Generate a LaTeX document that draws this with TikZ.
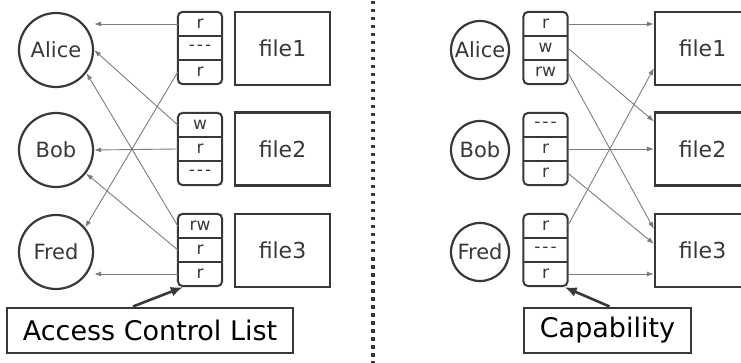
\documentclass[tikz,border=0pt]{standalone}
\usepackage{fontspec}
\setmainfont{DejaVu Sans}
\usepackage{xcolor}
\usepackage{tikz}
\usetikzlibrary{positioning,fit,arrows.meta}

\definecolor{inkgray}{HTML}{383838}
\definecolor{linkgray}{HTML}{7C7C7C}

\newcommand{\nopriv}{-\kern2pt-\kern2pt-}
\newcommand{\permlist}[6]{%
  \node[cell] (#1a) at (#2,#3+12) {#4};
  \node[cell] (#1b) at (#2,#3+36) {#5};
  \node[cell] (#1c) at (#2,#3+60) {#6};
  \node[listbox,fit=(#1a)(#1b)(#1c)] (#1) {};
  \draw[listrule] (#1a.south west) -- (#1a.south east);
  \draw[listrule] (#1b.south west) -- (#1b.south east);
}

\tikzset{
  user/.style={circle,draw=inkgray,line width=2.2pt,inner sep=0pt,text=inkgray,font=\fontsize{21}{25}\selectfont},
  bigu/.style={user,minimum size=74pt},
  smallu/.style={user,minimum size=58pt},
  filebox/.style={rectangle,draw=inkgray,line width=2.2pt,minimum width=95pt,minimum height=73pt,text=inkgray,font=\fontsize{22}{26}\selectfont},
  cell/.style={minimum width=44pt,minimum height=24pt,inner sep=0pt,text=inkgray,font=\fontsize{17}{20}\selectfont},
  listbox/.style={draw=inkgray,line width=2pt,rounded corners=5pt,inner sep=0pt},
  listrule/.style={draw=inkgray,line width=2pt},
  titlebox/.style={rectangle,draw=inkgray,line width=2pt,minimum height=45pt,text=black,font=\fontsize{27}{32}\selectfont},
  link/.style={draw=linkgray,line width=0.9pt,-{Latex[length=7pt,width=5pt]}},
  pointer/.style={draw=inkgray,line width=2.6pt,-{Latex[length=12pt,width=10pt]}}
}

\begin{document}
\begin{tikzpicture}[x=1pt,y=-1pt]
\useasboundingbox (0,0) rectangle (741,363);

\node[bigu] (alice) at (56,50) {Alice};
\node[bigu] (bob) at (56,150) {Bob};
\node[bigu] (fred) at (56,252) {Fred};
\permlist{aclA}{200}{12}{r}{\nopriv}{r}
\permlist{aclB}{200}{113}{w}{r}{\nopriv}
\permlist{aclC}{200}{214}{rw}{r}{r}
\node[filebox] (fileA) at (282.5,48.5) {file1};
\node[filebox] (fileB) at (282.5,149) {file2};
\node[filebox] (fileC) at (282.5,250.5) {file3};
\node[titlebox,minimum width=286pt] (acl) at (150,330) {Access Control List};

\draw[link] (aclAa.west) -- (aclAa.west -| alice.east);
\draw[link] (aclAc.west) -- (fred.40);
\draw[link] (aclBa.west) -- (alice.east);
\draw[link] (aclBb.west) -- (bob.east);
\draw[link] (aclCa.west) -- (alice.-37);
\draw[link] (aclCb.west) -- (bob.-38);
\draw[link] (aclCc.west) -- (aclCc.west -| fred.east);
\draw[pointer] ([xshift=-17pt]acl.north) -- ([xshift=6pt]aclC.south west);

\draw[inkgray,line width=3.5pt,dash pattern=on 3.5pt off 4.5pt] (373,1) -- (373,363);

\node[smallu] (calice) at (480,50) {Alice};
\node[smallu] (cbob) at (480,150) {Bob};
\node[smallu] (cfred) at (480,252) {Fred};
\permlist{capA}{545.5}{12}{r}{w}{rw}
\permlist{capB}{545.5}{113}{\nopriv}{r}{r}
\permlist{capF}{545.5}{214}{r}{\nopriv}{r}
\node[filebox] (cfileA) at (702.5,48.5) {file1};
\node[filebox] (cfileB) at (702.5,149) {file2};
\node[filebox] (cfileC) at (702.5,250.5) {file3};
\node[titlebox,minimum width=167pt] (cap) at (607.5,330) {Capability};

\draw[link] (capAa.east) -- (capAa.east -| cfileA.west);
\draw[link] (capAb.east) -- ([yshift=-10pt]cfileB.north west);
\draw[link] (capAc.east) -- ([yshift=-16pt]cfileC.north west);
\draw[link] (capBb.east) -- (capBb.east -| cfileB.west);
\draw[link] (capBc.east) -- ([yshift=-31pt]cfileC.north west);
\draw[link] (capFa.east) -- ([yshift=18pt]cfileA.south west);
\draw[link] (capFc.east) -- (capFc.east -| cfileC.west);
\draw[pointer] ([xshift=2pt]cap.north) -- ([xshift=-4pt]capF.south east);
\end{tikzpicture}
\end{document}
